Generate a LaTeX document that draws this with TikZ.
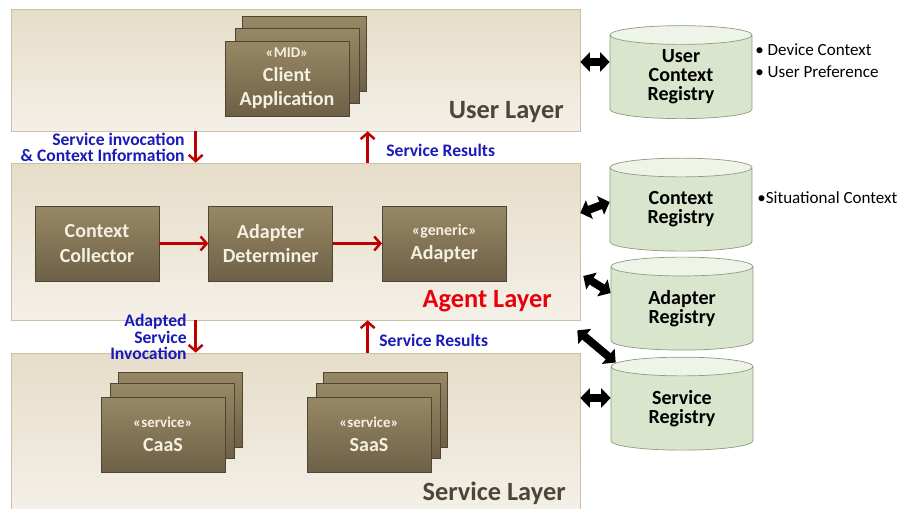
\documentclass[tikz,border=0pt]{standalone}
\usepackage{fontspec}
\setmainfont{Carlito}
\usepackage{tikz}
\usetikzlibrary{arrows.meta,shapes.geometric,positioning}
\definecolor{layertop}{HTML}{E6DDC9}
\definecolor{layerbot}{HTML}{F4F0E7}
\definecolor{layerline}{HTML}{CBC1AB}
\definecolor{blktop}{HTML}{978865}
\definecolor{blkbot}{HTML}{6E6047}
\definecolor{blkline}{HTML}{4F4532}
\definecolor{blktext}{HTML}{F5F0E0}
\definecolor{flowred}{HTML}{C00000}
\definecolor{noteblue}{HTML}{1A1AB8}
\definecolor{laygray}{HTML}{4D4538}
\definecolor{agentred}{HTML}{E8000B}
\definecolor{regbody}{HTML}{DAE5CD}
\definecolor{regtop}{HTML}{EFF4E8}
\definecolor{regline}{HTML}{8D9C7E}

\begin{document}
\begin{tikzpicture}[x=0.02cm,y=-0.02cm,
    layer/.style={draw=layerline,top color=layertop,bottom color=layerbot,minimum width=11.38cm,inner sep=0},
    blk/.style={draw=blkline,top color=blktop,bottom color=blkbot,minimum width=2.48cm,minimum height=1.5cm,
        text=blktext,font=\bfseries\fontsize{11.4}{13.7}\selectfont,align=center,inner sep=1pt},
    lname/.style={font=\bfseries\fontsize{15}{17}\selectfont,inner sep=0,anchor=east},
    flow/.style={draw=flowred,line width=1.4pt,-{Straight Barb[length=3.5pt,width=8pt]}},
    note/.style={text=noteblue,font=\bfseries\fontsize{10}{9.2}\selectfont,inner sep=0},
    bul/.style={font=\fontsize{9.7}{12.5}\selectfont,inner sep=0,anchor=west,align=left},
    reg/.style={cylinder,shape border rotate=90,aspect=0.28,minimum width=2.84cm,minimum height=1.86cm,
        draw=regline,cylinder uses custom fill,cylinder body fill=regbody,cylinder end fill=regtop,
        font=\bfseries\fontsize{11.4}{10.8}\selectfont,align=center,inner sep=0},
    dbl/.style={line width=4.5pt,{Triangle[length=5.5pt,width=11pt]}-{Triangle[length=5.5pt,width=11pt]}}
]
    \useasboundingbox (0,0) rectangle (899,509);
    \node[layer,minimum height=2.44cm] (user) at (295.5,70) {};
    \node[layer,minimum height=3.14cm] (agent) at (295.5,241.5) {};
    \node[layer,minimum height=3.12cm] (service) at (295.5,431) {};
    \node[lname,text=laygray] (userlbl) at (564,112) {User Layer};
    \node[lname,text=agentred] (agentlbl) at (552,301) {Agent Layer};
    \node[lname,text=laygray] (servicelbl) at (566,493) {Service Layer};

    \node[blk] (cl3) at (304,53.5) {};
    \node[blk] (cl2) at (297,65.5) {};
    \node[blk] (client) at (287,78.5) {{\fontsize{8.5}{10}\selectfont «MID»}\\Client\\Application};

    \node[blk] (coll) at (97,243.5) {Context\\Collector};
    \node[blk,right=0.98cm of coll] (det) {Adapter\\Determiner};
    \node[blk,right=0.98cm of det] (adapt) {{\fontsize{9}{10}\selectfont «generic»}\\Adapter};
    \draw[flow] (coll) -- (det);
    \draw[flow] (det) -- (adapt);

    \node[blk] (caas3) at (180,409.5) {};
    \node[blk] (caas2) at (172,420.5) {};
    \node[blk] (caas) at (163,434.5) {{\fontsize{8.5}{10}\selectfont «service»}\\CaaS};
    \node[blk] (saas3) at (385.5,409.5) {};
    \node[blk] (saas2) at (378,420.5) {};
    \node[blk] (saas) at (369,434.5) {{\fontsize{8.5}{10}\selectfont «service»}\\SaaS};

    \draw[flow] ([xshift=3.7cm]user.south west) -- ([xshift=3.7cm]agent.north west);
    \draw[flow] ([xshift=7.14cm]agent.north west) -- ([xshift=7.14cm]user.south west);
    \draw[flow] ([xshift=3.7cm]agent.south west) -- ([xshift=3.7cm]service.north west);
    \draw[flow] ([xshift=7.14cm]service.north west) -- ([xshift=7.14cm]agent.south west);
    \node[note,anchor=east,align=right] (inv) at (185,147) {Service invocation\\\& Context Information};
    \node[note,anchor=west] (res1) at (386,150) {Service Results};
    \node[note,anchor=east,align=right] (adinv) at (187,337) {Adapted\\Service\\Invocation};
    \node[note,anchor=west] (res2) at (379,340) {Service Results};

    \node[reg] (ucr) at (681,77) {User\\Context\\Registry};
    \node[reg] (creg) at (681,209.5) {Context\\Registry};
    \node[reg] (areg) at (682,308.5) {Adapter\\Registry};
    \node[reg] (sreg) at (682,408.5) {Service\\Registry};
    \node[bul] (ucrnote) at (755,61) {\textbullet\ Device Context\\\textbullet\ User Preference};
    \node[bul] (cregnote) at (757,198) {\textbullet Situational Context};

    \draw[dbl] ([yshift=.3cm]ucr.west -| user.east) -- ([yshift=.3cm]ucr.west);
    \draw[dbl] ([yshift=.57cm]agent.east) -- ([yshift=.15cm]creg.west);
    \draw[dbl] ([xshift=.06cm,yshift=-.69cm]agent.east) -- ([yshift=.31cm]areg.west);
    \draw[dbl] ([xshift=-.06cm,yshift=-.2cm]agent.south east) -- ([xshift=.1cm,yshift=.92cm]sreg.west);
    \draw[dbl] ([yshift=.21cm]sreg.west -| service.east) -- ([yshift=.21cm]sreg.west);
\end{tikzpicture}
\end{document}
